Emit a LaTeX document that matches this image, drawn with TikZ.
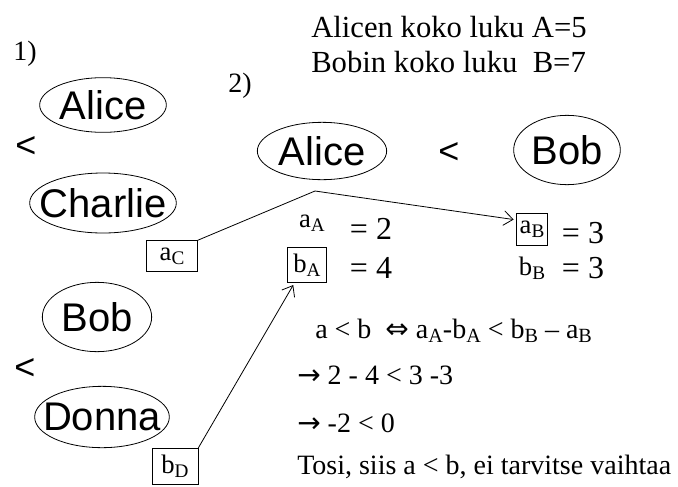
\documentclass[tikz,border=0pt]{standalone}
\usepackage{fontspec}
\setmainfont{Liberation Serif}
\newfontfamily\arialfont{Liberation Sans}
\newfontfamily\symbfont{DejaVu Sans}
\usetikzlibrary{shapes.geometric,arrows.meta}

\newcommand\pname[1]{\makebox[0pt]{#1}}
\newcommand\lo[1]{\raisebox{-0.35ex}{\scalebox{0.72}{#1}}}

\begin{document}
\begin{tikzpicture}[x=0.75pt,y=-0.75pt,
  every node/.style={inner sep=0pt},
  person/.style={draw,ellipse,line width=0.6pt,font=\arialfont\fontsize{30}{30}\selectfont},
  less/.style={font=\arialfont\fontsize{27}{27}\selectfont},
  txt/.style={anchor=west,font=\fontsize{21}{25}\selectfont},
  head/.style={anchor=west,font=\fontsize{23}{26}\selectfont},
  sym/.style={font=\fontsize{20}{20}\selectfont},
  val/.style={font=\fontsize{24}{24}\selectfont},
  valbox/.style={draw,line width=0.6pt,font=\fontsize{20}{20}\selectfont},
  link/.style={line width=0.6pt,-{Straight Barb[length=7pt,width=11pt]},shorten >=2pt}]
\useasboundingbox (0,0) rectangle (678,486);

% header
\node[head] (sumA) at (311,27) {Alicen koko luku A=5};
\node[head] (sumB) at (311,62) {Bobin koko luku\ \ B=7};

% 1) the two pairs
\node[txt] (one) at (13,54) {1)};
\node[person,minimum width=95pt,minimum height=41pt] (alice1) at (103,105) {\pname{Alice}};
\node[less] (lt1) at (26,147) {<};
\node[person,minimum width=110pt,minimum height=45pt] (charlie) at (103,203) {\pname{Charlie}};
\node[person,minimum width=82pt,minimum height=52pt] (bob1) at (97,317) {\pname{Bob}};
\node[less] (lt2) at (25,369) {<};
\node[person,minimum width=101pt,minimum height=46pt] (donna) at (102,417) {\pname{Donna}};
\node[valbox,minimum width=38pt,minimum height=23pt] (aC) at (172,256) {a\lo{C}};
\node[valbox,minimum width=34.5pt,minimum height=27.5pt] (bD) at (175,466.5) {b\lo{D}};

% 2) Alice against Bob
\node[txt] (two) at (228,86) {2)};
\node[person,minimum width=97pt,minimum height=43pt] (alice2) at (322,151) {\pname{Alice}};
\node[less] (lt3) at (449,153) {<};
\node[person,minimum width=80pt,minimum height=52pt] (bob2) at (567,150) {\pname{Bob}};

\node[sym] (aA) at (312,223) {a\lo{A}};
\node[val] (eqaA) at (371,229) {= 2};
\node[valbox,minimum width=29pt,minimum height=26pt] (bA) at (307,265) {b\lo{A}};
\node[val] (eqbA) at (371,268) {= 4};
\node[valbox,minimum width=23pt,minimum height=24pt] (aB) at (532,229) {a\lo{B}};
\node[val] (eqaB) at (583,233) {= 3};
\node[sym] (bB) at (532,268) {b\lo{B}};
\node[val] (eqbB) at (583,268) {= 3};

% reasoning
\node[txt] (rule) at (315,331) {a < b\ \ {\symbfont ⇔} a\lo{A}-b\lo{A} < b\lo{B} -- a\lo{B}};
\node[txt] (step1) at (297,375) {{\symbfont →} 2 - 4 < 3 -3};
\node[txt] (step2) at (297,423) {{\symbfont →} -2 < 0};
\node[txt] (verdict) at (297,467) {Tosi, siis a < b, ei tarvitse vaihtaa};

% arrows
\coordinate (knee) at (315,191);
\draw[link] (aC.north east) -- (knee) -- (aB.150);
\draw[link] (bD.north east) -- (bA.235);
\end{tikzpicture}
\end{document}
